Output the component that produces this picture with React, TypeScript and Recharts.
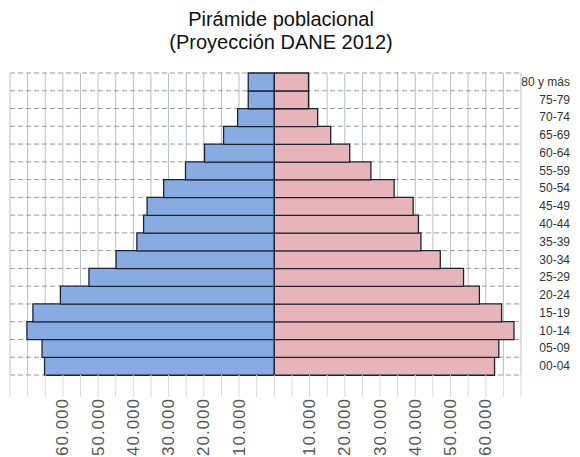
import React from "react";
import { BarChart, Bar, XAxis, YAxis, CartesianGrid } from "recharts";

// Grupos de edad, de menor a mayor
const ageGroups = [
  "00-04", "05-09", "10-14", "15-19", "20-24", "25-29", "30-34", "35-39", "40-44",
  "45-49", "50-54", "55-59", "60-64", "65-69", "70-74", "75-79", "80 y más",
];

const hombres = [
  65200, 65900, 70200, 68500, 60700, 52600, 44900, 39000, 37100,
  36100, 31400, 25200, 19800, 14400, 10400, 7400, 7400,
];

const mujeres = [
  62500, 63700, 68000, 64500, 58200, 53700, 47100, 41600, 40900,
  39400, 34000, 27400, 21400, 16000, 12300, 9700, 9700,
];

const gridTicks = [
  -75000, -70000, -65000, -60000, -55000, -50000, -45000, -40000, -35000, -30000,
  -25000, -20000, -15000, -10000, -5000, 0, 5000, 10000, 15000, 20000, 25000,
  30000, 35000, 40000, 45000, 50000, 55000, 60000, 65000, 70000,
];

const labelTicks = [
  -60000, -50000, -40000, -30000, -20000, -10000,
  10000, 20000, 30000, 40000, 50000, 60000,
];

const data = ageGroups.map((age, i) => ({
  age,
  hombres: -hombres[i],
  mujeres: mujeres[i],
}));

const fmt = (v: number) => Math.abs(v).toLocaleString("de-DE");

function XTick(props: any) {
  const { x, y, payload } = props;
  const v = payload.value as number;
  return (
    <g>
      <line x1={x} y1={y} x2={x} y2={y + 22} stroke="#d6dadb" strokeWidth={1} />
      {labelTicks.includes(v) && (
        <text
          x={x}
          y={y + 23}
          transform={`rotate(-90, ${x}, ${y + 23})`}
          textAnchor="end"
          dominantBaseline="central"
          fontFamily="Arial, 'Liberation Sans', sans-serif"
          fontSize={17}
          letterSpacing={1}
          fill="#555"
        >
          {fmt(v)}
        </text>
      )}
    </g>
  );
}

function YTick(props: any) {
  const { x, y, payload } = props;
  return (
    <text
      x={x + 49}
      y={y}
      textAnchor="end"
      dominantBaseline="central"
      fontFamily="Arial, 'Liberation Sans', sans-serif"
      fontSize={12}
      fill="#333"
    >
      {payload.value}
    </text>
  );
}

export default function App() {
  return (
    <div style={{ position: "relative", width: 580, height: 457, background: "#fff", overflow: "hidden" }}>
      <style>{"body{margin:0}"}</style>
      <div
        style={{
          position: "absolute",
          top: 8,
          left: 0,
          width: 562,
          textAlign: "center",
          fontFamily: "Arial, 'Liberation Sans', sans-serif",
          fontSize: 20,
          lineHeight: "23px",
          color: "#111",
        }}
      >
        Pirámide poblacional
        <br />
        (Proyección DANE 2012)
      </div>
      <BarChart
        width={580}
        height={457}
        data={data}
        layout="vertical"
        stackOffset="sign"
        barCategoryGap={0}
        margin={{ top: 73, right: 0, bottom: 0, left: 10 }}
      >
        <CartesianGrid horizontal={false} stroke="#b9bfc1" />
        <CartesianGrid
          vertical={false}
          stroke="#9a9a9a"
          strokeDasharray="5 3"
          horizontalCoordinatesGenerator={({ offset }: any) =>
            ageGroups.map((_, i) => offset.top + (i * offset.height) / ageGroups.length).concat(offset.top + offset.height)
          }
        />
        <XAxis
          type="number"
          domain={[-75000, 70000]}
          ticks={gridTicks}
          interval={0}
          height={82}
          axisLine={false}
          tickLine={false}
          tickSize={0}
          tickMargin={0}
          tick={<XTick />}
          allowDataOverflow
        />
        <YAxis
          type="category"
          dataKey="age"
          orientation="right"
          reversed
          width={59}
          axisLine={false}
          tickLine={false}
          tickSize={0}
          tickMargin={0}
          interval={0}
          tick={<YTick />}
        />
        <Bar dataKey="hombres" stackId="p" fill="#86ace2" stroke="#1e2233" strokeWidth={1.3} isAnimationActive={false} />
        <Bar dataKey="mujeres" stackId="p" fill="#e7b4b9" stroke="#1e2233" strokeWidth={1.3} isAnimationActive={false} />
      </BarChart>
    </div>
  );
}
